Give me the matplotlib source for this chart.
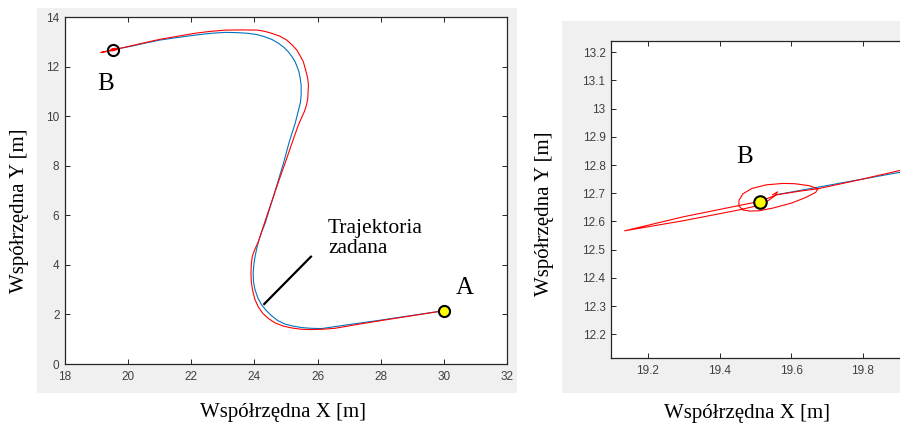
import matplotlib
matplotlib.use("Agg")
import matplotlib.pyplot as plt
from matplotlib.patches import Rectangle
from matplotlib.ticker import FuncFormatter

# trajektoria zadana (A -> B)
zadana_x = [30.00, 29.00, 28.00, 27.00, 26.13, 25.80, 25.50, 25.22, 24.97, 24.74, 24.55,
            24.38, 24.23, 24.11, 24.02, 23.97, 23.96, 23.98, 24.02, 24.07, 24.13, 24.22,
            24.34, 24.47, 24.60, 24.76, 24.92, 25.10, 25.29, 25.41, 25.46, 25.48, 25.48,
            25.45, 25.41, 25.35, 25.29, 25.19, 25.07, 24.93, 24.76, 24.56, 24.33, 24.08,
            23.81, 23.45, 23.07, 22.60, 22.07, 21.55, 21.01, 20.55, 20.10, 19.555]
zadana_y = [2.15, 1.96, 1.77, 1.59, 1.43, 1.44, 1.47, 1.53, 1.61, 1.75, 1.94,
            2.15, 2.38, 2.66, 2.99, 3.32, 3.66, 4.00, 4.33, 4.64, 4.95, 5.30,
            5.68, 6.22, 6.75, 7.42, 8.10, 8.95, 9.71, 10.31, 10.58, 10.85, 11.25,
            11.52, 11.79, 12.00, 12.19, 12.40, 12.60, 12.78, 12.94, 13.09, 13.20, 13.29,
            13.34, 13.37, 13.38, 13.34, 13.26, 13.17, 13.07, 12.95, 12.82, 12.694]

# trajektoria zrealizowana (A -> B, z petla przy punkcie B)
robot_x = [30.00, 29.00, 28.00, 27.14, 26.55, 26.13, 25.80, 25.50, 25.20, 24.91, 24.65,
           24.44, 24.26, 24.12, 24.01, 23.94, 23.90, 23.89, 23.90, 23.93, 24.01, 24.12,
           24.28, 24.44, 24.60, 24.78, 24.97, 25.20, 25.39, 25.58, 25.65, 25.69, 25.71,
           25.69, 25.65, 25.55, 25.45, 25.34, 25.19, 25.02, 24.80, 24.55, 24.33, 24.12,
           23.60, 23.07, 22.60, 22.10, 21.55, 21.01, 20.55, 20.10, 19.90, 19.78,
           19.674, 19.65, 19.61, 19.577, 19.53, 19.49, 19.465, 19.454, 19.454, 19.465,
           19.484, 19.51, 19.55, 19.60, 19.64, 19.668, 19.674, 19.62, 19.56, 19.514,
           19.30, 19.135, 19.30, 19.45, 19.52, 19.553, 19.562, 19.548]
robot_y = [2.15, 1.95, 1.75, 1.57, 1.44, 1.40, 1.39, 1.40, 1.45, 1.53, 1.66,
           1.84, 2.05, 2.31, 2.62, 2.99, 3.32, 3.66, 4.00, 4.33, 4.62, 4.92,
           5.54, 6.15, 6.75, 7.42, 8.10, 8.95, 9.64, 10.18, 10.45, 10.72, 11.25,
           11.50, 11.73, 12.19, 12.43, 12.67, 12.88, 13.07, 13.23, 13.34, 13.42, 13.47,
           13.48, 13.47, 13.42, 13.34, 13.22, 13.10, 12.97, 12.84, 12.78, 12.745,
           12.716, 12.727, 12.734, 12.735, 12.730, 12.717, 12.698, 12.675, 12.655, 12.641,
           12.637, 12.638, 12.648, 12.665, 12.685, 12.703, 12.716, 12.707, 12.695, 12.672,
           12.617, 12.567, 12.603, 12.640, 12.660, 12.690, 12.705, 12.695]

punkt_a = (30.00, 2.15)
punkt_b = (19.514, 12.670)

left_xticks = [18, 20, 22, 24, 26, 28, 30, 32]
left_yticks = [0, 2, 4, 6, 8, 10, 12, 14]
right_xticks = [19.2, 19.4, 19.6, 19.8]
right_yticks = [12.2, 12.3, 12.4, 12.5, 12.6, 12.7, 12.8, 12.9, 13.0, 13.1, 13.2]

SERIF = "Liberation Serif"
AX_COL = "#262626"
BLUE = "#0072BD"
RED = "#FF0000"

plt.rcParams["font.family"] = "Liberation Sans"


def style_axes(ax):
    ax.set_facecolor("white")
    for sp in ax.spines.values():
        sp.set_color(AX_COL)
        sp.set_linewidth(0.9)
    ax.tick_params(direction="in", top=True, right=True, length=3.5, width=0.7,
                   colors=AX_COL, labelsize=8.5, labelcolor="#404040")
    ax.tick_params(axis="x", pad=5)
    ax.tick_params(axis="y", pad=4)


fig = plt.figure(figsize=(9, 4.23), dpi=100)
fig.patch.set_facecolor("white")

# szare tlo okien MATLAB-a
fig.patches.append(Rectangle((37 / 900, 30 / 423), 480 / 900, 385 / 423,
                             transform=fig.transFigure, facecolor="#f0f0f0",
                             edgecolor="none", zorder=-10))
fig.patches.append(Rectangle((562 / 900, 30 / 423), 338 / 900, 372 / 423,
                             transform=fig.transFigure, facecolor="#f0f0f0",
                             edgecolor="none", zorder=-10))

# lewy wykres - cala trajektoria
ax1 = fig.add_axes([65 / 900, 59 / 423, 442 / 900, 347 / 423])
ax1.plot(zadana_x, zadana_y, color=BLUE, lw=0.8)
ax1.plot(robot_x, robot_y, color=RED, lw=0.8)
ax1.plot(*punkt_a, "o", ms=8, mfc="#FFFF00", mec="black", mew=1.5)
ax1.plot(*punkt_b, "o", ms=8, mfc="none", mec="black", mew=1.5)
ax1.set_xlim(18, 32)
ax1.set_ylim(0, 14)
ax1.set_xticks(left_xticks)
ax1.set_yticks(left_yticks)
style_axes(ax1)
ax1.text(19.30, 11.29, "B", fontsize=18, family=SERIF, ha="center", va="center")
ax1.text(30.67, 3.07, "A", fontsize=18, family=SERIF, ha="center", va="center")
ax1.text(26.33, 4.48, "Trajektoria\nzadana", fontsize=15.5, family=SERIF,
         ha="left", va="baseline", linespacing=1.05)
ax1.plot([24.31, 25.79], [2.42, 4.33], color="black", lw=1.6)

# prawy wykres - powiekszenie okolicy punktu B
ax2 = fig.add_axes([611 / 900, 65 / 423, 329 / 900, 317 / 423])
ax2.plot(zadana_x, zadana_y, color=BLUE, lw=0.8)
ax2.plot(robot_x, robot_y, color=RED, lw=0.8)
ax2.plot(*punkt_b, "o", ms=9, mfc="#FFFF00", mec="black", mew=1.5)
ax2.set_xlim(19.097, 20.015)
ax2.set_ylim(12.116, 13.24)
ax2.set_xticks(right_xticks)
ax2.set_yticks(right_yticks)
ax2.xaxis.set_major_formatter(FuncFormatter(lambda v, p: f"{v:g}"))
ax2.yaxis.set_major_formatter(FuncFormatter(lambda v, p: f"{v:g}"))
style_axes(ax2)
ax2.text(19.471, 12.829, "B", fontsize=18, family=SERIF, ha="center", va="center")

# opisy osi
fig.text(283 / 900, 1 - 412 / 423, "Współrzędna X [m]", fontsize=15, family=SERIF,
         ha="center", va="center")
fig.text(20 / 900, 1 - 211 / 423, "Współrzędna Y [m]", fontsize=15, family=SERIF,
         ha="center", va="center", rotation=90)
fig.text(747 / 900, 1 - 413 / 423, "Współrzędna X [m]", fontsize=15, family=SERIF,
         ha="center", va="center")
fig.text(545 / 900, 1 - 214 / 423, "Współrzędna Y [m]", fontsize=15, family=SERIF,
         ha="center", va="center", rotation=90)

fig.savefig("out.png", dpi=100)
